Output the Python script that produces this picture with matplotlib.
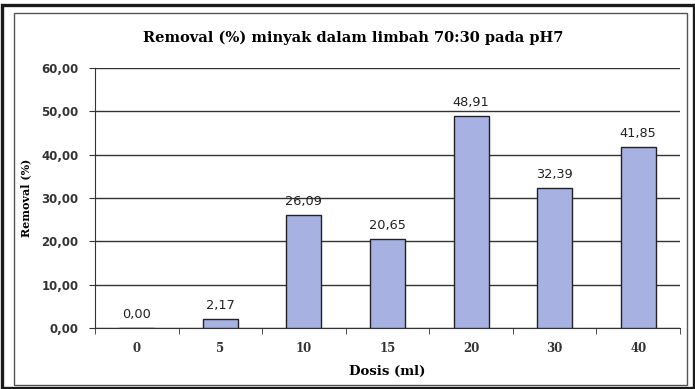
import numpy as np
import matplotlib.pyplot as plt
from matplotlib.patches import Rectangle

# data
dosis = ['0', '5', '10', '15', '20', '30', '40']
removal = [0.00, 2.17, 26.09, 20.65, 48.91, 32.39, 41.85]
yticks = [0, 10, 20, 30, 40, 50, 60]

W, H = 695, 389
fig = plt.figure(figsize=(W / 100, H / 100), dpi=100)
fig.patch.set_facecolor('white')

# frames (outer thick, inner thin)
fig.add_artist(Rectangle((2 / W, 1 / H), 692 / W, 383 / H, transform=fig.transFigure,
                         fill=False, lw=2.4, ec='#1a1a1a'))
fig.add_artist(Rectangle((14 / W, 4 / H), 673 / W, 372 / H, transform=fig.transFigure,
                         fill=False, lw=1.0, ec='#555555'))

ax = fig.add_axes([95 / W, 61 / H, 585 / W, 260 / H])
x = np.arange(len(dosis))
ax.bar(x, removal, width=0.42, color='#a7b2e2', edgecolor='#222222', lw=1.0, zorder=3)

for xi, v in zip(x, removal):
    ax.annotate(f'{v:.2f}'.replace('.', ','), (xi, v), xytext=(0, 5), textcoords='offset points',
                ha='center', va='bottom', fontsize=9.3, family='DejaVu Sans', color='#222222')

ax.set_xlim(-0.5, len(dosis) - 0.5)
ax.set_ylim(0, 60)
ax.set_yticks(yticks)
ax.set_yticklabels([f'{t:.2f}'.replace('.', ',') for t in yticks], family='DejaVu Sans',
                   fontweight='bold', fontsize=8.5, color='#333333')
ax.set_xticks(x)
ax.set_xticklabels(dosis, family='DejaVu Serif', fontweight='bold', fontsize=8.5, color='#333333')
ax.set_xticks(np.arange(len(dosis) + 1) - 0.5, minor=True)
ax.tick_params(axis='x', which='major', length=0, pad=10)
ax.tick_params(axis='x', which='minor', length=4, color='#333333')
ax.tick_params(axis='y', length=4, color='#333333', pad=8)
ax.yaxis.grid(True, color='#333333', lw=1.0, zorder=0)
for s in ['top', 'right']:
    ax.spines[s].set_visible(False)
ax.spines['left'].set_color('#333333')
ax.spines['bottom'].set_color('#333333')

ax.set_xlabel('Dosis (ml)', family='DejaVu Serif', fontweight='bold', fontsize=9.5, labelpad=7)
ax.set_ylabel('Removal (%)', family='DejaVu Serif', fontweight='bold', fontsize=8, labelpad=7)
fig.text(353 / W, 1 - 38 / H, 'Removal (%) minyak dalam limbah 70:30 pada pH7', ha='center',
         va='center', family='DejaVu Serif', fontweight='bold', fontsize=10.5)

fig.savefig('out.png', dpi=100)
